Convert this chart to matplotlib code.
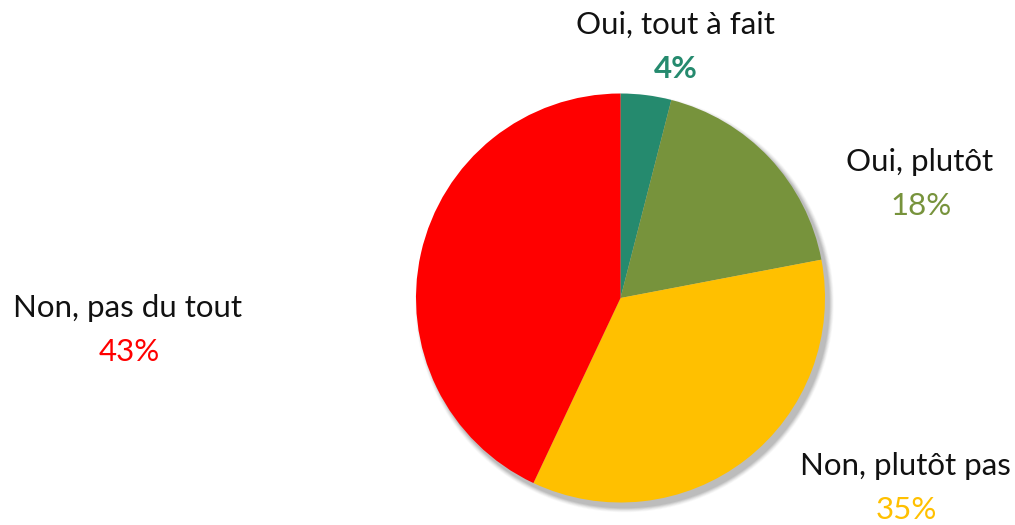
import numpy as np
import matplotlib
matplotlib.use("Agg")
import matplotlib.pyplot as plt
from matplotlib.patches import Circle

#--------------------------------------
labels  = ["Oui, tout à fait", "Oui, plutôt", "Non, plutôt pas", "Non, pas du tout"]
values  = [4, 18, 35, 43]
colors  = ["#258A6E", "#77933C", "#FFC000", "#FF0000"]
weights = ["bold", "normal", "normal", "normal"]
# label centre (pixels from top-left)
labPos  = [(675, 25), (920, 162), (905, 466), (128, 308)]

W, H = 1015, 525
plt.rcParams['font.family'] = ['Lato', 'DejaVu Sans']

fig = plt.figure(figsize=(W/100, H/100), dpi=100)
ax  = fig.add_axes([0, 0, 1, 1])

cx, cy, r = 620.5, H - 298, 204.5

# soft shadow
for k, a in zip(range(6, 0, -1), [0.05, 0.07, 0.09, 0.12, 0.15, 0.18]):
    ax.add_patch(Circle((cx + 4, cy - 5), r + k * 0.8, color='#808080', alpha=a, lw=0, zorder=0))

ax.pie(values, colors=colors, startangle=90, counterclock=False,
       center=(cx, cy), radius=r, frame=True,
       wedgeprops=dict(linewidth=0))
ax.set_xlim(0, W)
ax.set_ylim(0, H)
ax.set_aspect('equal')
ax.axis('off')

#--------------------------------------
for lab, v, c, w, (x, y) in zip(labels, values, colors, weights, labPos):
    ax.text(x, H - y, lab, ha='center', va='center', fontsize=22.5, color='#111111')
    ax.text(x + 1, H - y - 44, f"{v}%", ha='center', va='center', fontsize=22.5,
            color=c, fontweight=w)

fig.savefig("out.png", dpi=100)
